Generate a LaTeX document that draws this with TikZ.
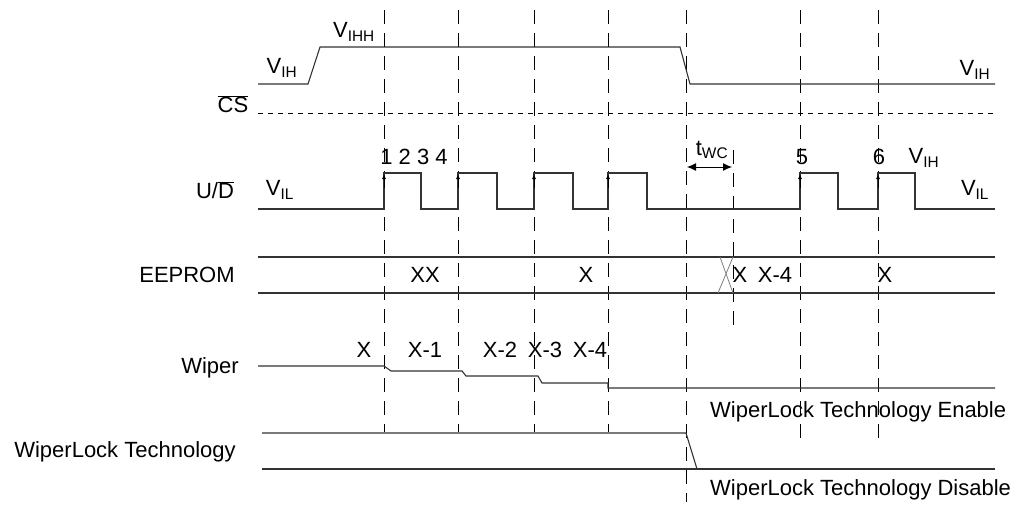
\documentclass[tikz,border=0pt]{standalone}
\usepackage{fontspec}
\setmainfont{Liberation Sans}
\usetikzlibrary{arrows.meta}
\begin{document}
\begin{tikzpicture}[x=1pt,y=-1pt,
  sig/.style={line width=1.1pt,black!80},
  dsh/.style={line width=0.9pt,dash pattern=on 14pt off 9pt},
  lab/.style={font=\fontsize{22}{25}\selectfont,inner sep=0pt},
  tip/.style={-{Latex[length=5pt,width=4pt]},line width=0.8pt}]
\useasboundingbox (0,0) rectangle (1028,506);
% dashed verticals
\foreach \x in {384,458,534,608} \draw[dsh] (\x,10) -- (\x,432);
\draw[dsh] (686,10) -- (686,502);
\draw[dsh] (800,10) -- (800,440);
\draw[dsh] (878,10) -- (878,440);
\draw[dsh] (733,150) -- (733,328);
% CS
\draw[sig] (258,84) -- (308,84) -- (320,47) -- (680,47) -- (690,84) -- (995,84);
\draw[line width=0.9pt,dash pattern=on 5pt off 5pt] (258,113) -- (995,113);
\node[lab] at (282,68) {V\textsubscript{IH}};
\node[lab] at (354,32) {V\textsubscript{IHH}};
\node[lab] at (233,104) {$\overline{\mbox{CS}}$};
\node[lab] at (975,70) {V\textsubscript{IH}};
% U/D
\draw[sig] (258,209) -- (384,209) -- (384,173) -- (421,173) -- (421,209) -- (458,209) -- (458,173) -- (497,173) -- (497,209)
  -- (534,209) -- (534,173) -- (573,173) -- (573,209) -- (608,209) -- (608,173) -- (647,173) -- (647,209)
  -- (800,209) -- (800,173) -- (838,173) -- (838,209) -- (878,209) -- (878,173) -- (915,173) -- (915,209) -- (995,209);
\foreach \x in {384,458,534,608,800,878} \draw[tip] (\x,188) -- (\x,174);
\node[lab] at (215,190) {U/$\overline{\mbox{D}}$};
\node[lab] at (280,190) {V\textsubscript{IL}};
\node[lab] at (975,190) {V\textsubscript{IL}};
\node[lab] at (414,157) {1 2 3 4};
\node[lab] at (802,157) {5};
\node[lab] at (879,157) {6};
\node[lab] at (924,158) {V\textsubscript{IH}};
\draw[{Latex[length=9pt,width=8pt]}-{Latex[length=9pt,width=8pt]},line width=1pt] (687,167) -- (732,167);
\node[lab] at (712,150) {t\textsubscript{WC}};
% EEPROM
\draw[sig] (258,257) -- (995,257);
\draw[sig] (258,293) -- (995,293);
\draw[line width=0.8pt,gray] (720,257) -- (733,293) (733,257) -- (718,293);
\node[lab] at (187,275) {EEPROM};
\node[lab] at (425,275) {XX};
\node[lab] at (586,275) {X};
\node[lab] at (740,275) {X};
\node[lab] at (775,275) {X-4};
\node[lab] at (885,275) {X};
% Wiper
\draw[sig] (258,366) -- (384,366) -- (391,371) -- (462,371) -- (466,376) -- (538,376) -- (542,383) -- (608,383) -- (608,388) -- (995,388);
\node[lab] at (210,368) {Wiper};
\node[lab] at (364,350) {X};
\node[lab] at (425,350) {X-1};
\node[lab] at (500,350) {X-2};
\node[lab] at (545,350) {X-3};
\node[lab] at (590,350) {X-4};
% WiperLock
\draw[sig] (262,433) -- (686,433) -- (697,469);
\draw[sig] (262,469) -- (995,469);
\node[lab] at (125,452) {WiperLock Technology};
\node[lab,anchor=west] at (710,412) {WiperLock Technology Enable};
\node[lab,anchor=west] at (710,490) {WiperLock Technology Disable};
\end{tikzpicture}
\end{document}
